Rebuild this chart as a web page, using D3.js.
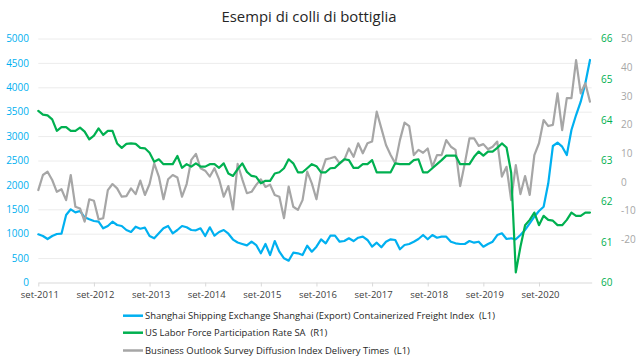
<!DOCTYPE html>
<html>
<head>
<meta charset="utf-8">
<script src="https://cdn.jsdelivr.net/npm/d3@7"></script>
<style>
  html, body { margin: 0; padding: 0; background: #fff; }
  svg { display: block; font-family: "Open Sans", "DejaVu Sans", sans-serif; }
</style>
</head>
<body>
<svg id="chart" width="643" height="364"></svg>
<script>
// ---------------- DATA ----------------
const title = "Esempi di colli di bottiglia";
const xTickLabels = ["set-2011","set-2012","set-2013","set-2014","set-2015","set-2016","set-2017","set-2018","set-2019","set-2020"];
const leftTicks = [0,500,1000,1500,2000,2500,3000,3500,4000,4500,5000];
const greenTicks = [60,61,62,63,64,65,66];
const greyTicks = [-20,-10,0,10,20,30,40,50];
const seriesNames = [
  "Shanghai Shipping Exchange Shanghai (Export) Containerized Freight Index  (L1)",
  "US Labor Force Participation Rate SA  (R1)",
  "Business Outlook Survey Diffusion Index Delivery Times  (L1)"
];
// monthly, Sep 2011 .. Aug 2021
const freightIndex = [
  988,953,891,953,994,1000,1383,1500,1438,1465,1336,1295,1260,1246,1110,1158,1246,1178,1158,1076,
  1035,1143,1102,1123,953,906,1008,1110,1158,1008,1076,1158,1131,1076,1070,1110,953,1131,959,1035,
  1076,1000,880,820,790,760,836,768,598,789,563,850,631,496,447,611,598,563,754,631,
  734,885,803,959,959,836,850,906,850,918,939,871,734,816,721,836,885,871,680,768,
  789,836,891,973,885,973,918,939,939,836,803,789,789,850,816,836,734,789,836,973,
  1008,891,906,885,973,1076,1213,1348,1465,1553,2033,2797,2865,2783,2613,3125,3432,3705,4082,4560
];
const laborParticipation = [
  64.22,64.13,64.11,64.01,63.73,63.82,63.82,63.73,63.73,63.81,63.71,63.52,63.61,63.79,63.63,63.73,63.73,63.42,63.31,63.41,
  63.42,63.41,63.31,63.30,63.19,62.97,63.03,62.91,62.91,62.91,63.11,62.82,62.91,62.85,62.93,62.85,62.85,62.91,62.91,62.82,
  62.93,62.68,62.62,62.79,62.93,62.72,62.62,62.60,62.44,62.50,62.50,62.68,62.71,62.81,63.03,62.93,62.71,62.71,62.81,62.91,
  62.86,62.71,62.71,62.81,62.82,62.93,63.03,63.01,62.82,62.82,62.91,62.91,63.01,62.71,62.71,62.71,62.71,62.93,62.91,62.91,
  62.91,63.01,63.03,62.71,62.71,62.81,62.91,63.01,63.12,63.12,63.12,62.91,62.91,62.91,63.09,63.22,63.12,63.22,63.22,63.31,
  63.42,63.32,62.70,60.25,60.88,61.41,61.54,61.72,61.41,61.64,61.54,61.52,61.41,61.41,61.54,61.72,61.64,61.64,61.72,61.72
];
const deliveryTimes = [
  -2.8,2.45,3.6,0.7,-3.4,-2.5,-6.3,2.45,-8.6,-9.2,-13.8,-6.0,-6.5,-13.0,-12.6,-2.8,-0.7,-2.2,-5.1,-4.9,
  -2.2,-4.2,0.5,-4.5,-0.7,6.5,1.9,-6.0,0.95,2.45,1.6,-5.1,-0.7,7.7,9.8,4.8,3.95,1.9,4.8,0.95,
  -5.1,-1.4,-9.5,6.3,0.95,-3.9,-3.4,-1.0,0.95,-1.7,-0.9,-4.5,-5.1,-12.6,-1.6,-8.6,-9.7,-6.3,3.6,-0.45,
  -6.0,3.0,7.9,8.3,8.8,6.5,7.7,11.7,8.8,13.5,10.0,13.5,14.1,24.5,18.7,12.9,9.4,6.5,14.6,20.7,
  19.5,9.4,11.2,10.2,11.7,5.3,9.4,9.4,14.6,12.3,11.2,-1.4,6.5,15.2,15.2,12.6,13.2,11.4,12.3,14.1,
  1.9,5.3,-6.3,5.9,-4.2,2.1,-4.5,9.4,13.5,21.6,19.5,19.9,30.9,18.1,29.2,29.2,42.5,30.9,34.4,28.0
];

// ---------------- LAYOUT ----------------
const BLUE = "#00b0f0", GREEN = "#00b050", GREY = "#a6a6a6";
const svg = d3.select("#chart");
const plotL = 38.3, plotR = 591.7, plotT = 38.5, plotB = 282.5;
const plain = d => String(d);

const x = d3.scaleLinear().domain([0, 119.37]).range([plotL, plotR]);
const yL = d3.scaleLinear().domain([0, 5000]).range([plotB, plotT]);
const yG = d3.scaleLinear().domain([60, 66]).range([plotB, plotT]);
const yR = d3.scaleLinear().domain([-35, 50]).range([plotB, plotT]);

// title
const t = svg.append("text").attr("x", 309).attr("y", 22)
  .attr("text-anchor", "middle").attr("fill", "#262626")
  .style("font-size", "14px").text(title);
{ const w = t.node().getComputedTextLength(); t.style("font-size", (14 * 175 / w).toFixed(2) + "px"); }

// gridlines
const grid = svg.append("g").attr("transform", `translate(${plotL},0)`)
  .call(d3.axisLeft(yL).tickValues(leftTicks.filter(v => v > 0)).tickSize(-(plotR - plotL)).tickFormat(""));
grid.select(".domain").remove();
grid.selectAll("line").attr("stroke", "#ececec").attr("stroke-width", 1);

// left axis labels
const gl = svg.append("g").attr("transform", `translate(${plotL},0)`)
  .call(d3.axisLeft(yL).tickValues(leftTicks).tickSize(0).tickPadding(9.3).tickFormat(plain));
gl.select(".domain").remove();
gl.selectAll("text").attr("fill", BLUE).style("font-size", "10px").style("font-family", "'Open Sans', sans-serif");

// right axis (green)
const gg = svg.append("g").attr("transform", `translate(${plotR},0)`)
  .call(d3.axisRight(yG).tickValues(greenTicks).tickSize(0).tickPadding(9.3).tickFormat(plain));
gg.select(".domain").remove();
gg.selectAll("text").attr("fill", GREEN).style("font-size", "10px").style("font-family", "'Open Sans', sans-serif");

// far-right axis (grey)
const gr = svg.append("g").attr("transform", `translate(${plotR},0)`)
  .call(d3.axisRight(yR).tickValues(greyTicks).tickSize(0).tickPadding(29.3).tickFormat(plain));
gr.select(".domain").remove();
gr.selectAll("text").attr("fill", GREY).style("font-size", "10px").style("font-family", "'Open Sans', sans-serif");

// x axis
const gx = svg.append("g").attr("transform", `translate(0,${plotB})`)
  .call(d3.axisBottom(x).tickValues(xTickLabels.map((d, i) => i * 12))
    .tickFormat((d, i) => xTickLabels[i]).tickSize(4).tickSizeOuter(0).tickPadding(4.5));
gx.select(".domain").attr("stroke", "#d9d9d9");
gx.selectAll("line").attr("stroke", "#d9d9d9");
gx.selectAll("text").attr("fill", "#404040").style("font-size", "9.5px").style("font-family", "'Open Sans', sans-serif").attr("dx", "1");

// lines
const lineL = d3.line().x((d, i) => x(i)).y(d => yL(d));
const lineG = d3.line().x((d, i) => x(i)).y(d => yG(d));
const lineR = d3.line().x((d, i) => x(i)).y(d => yR(d));
const plots = svg.append("g").attr("fill", "none").attr("stroke-width", 2.2)
  .attr("stroke-linejoin", "round").attr("stroke-linecap", "round");
plots.append("path").attr("d", lineL(freightIndex)).attr("stroke", BLUE);
plots.append("path").attr("d", lineR(deliveryTimes)).attr("stroke", GREY);
plots.append("path").attr("d", lineG(laborParticipation)).attr("stroke", GREEN);

// legend
const legendColors = [BLUE, GREEN, GREY];
const legendY = [315.7, 332.7, 350.5];
const targetW = [353, 185, 260];
const lg = svg.append("g");
seriesNames.forEach((name, i) => {
  lg.append("line").attr("x1", 123).attr("x2", 143).attr("y1", legendY[i]).attr("y2", legendY[i])
    .attr("stroke", legendColors[i]).attr("stroke-width", 2.5);
});
const legTexts = seriesNames.map((name, i) =>
  lg.append("text").attr("x", 145).attr("y", legendY[i]).attr("dy", "0.35em")
    .attr("fill", "#262626").style("font-size", "10px").style("white-space", "pre").text(name));
{
  let ratio = 0;
  legTexts.forEach((tx, i) => { ratio += targetW[i] / tx.node().getComputedTextLength(); });
  ratio /= legTexts.length;
  legTexts.forEach(tx => tx.style("font-size", (10 * ratio).toFixed(2) + "px"));
}
</script>
</body>
</html>
